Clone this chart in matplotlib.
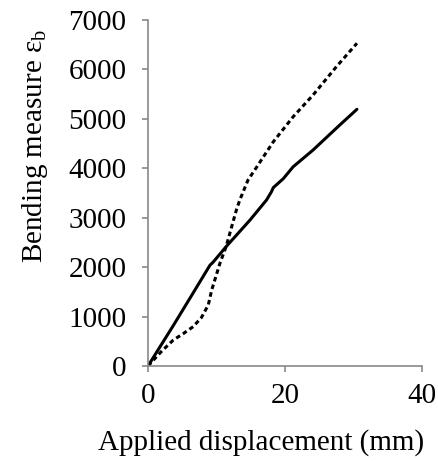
import matplotlib
matplotlib.use("Agg")
import matplotlib.pyplot as plt

# Solid series
solid_x = [0, 3.7, 6.6, 9.05, 9.5, 11.4, 14.9, 17.3, 18.0, 18.3, 19.75, 21.2, 24.1, 28.0, 30.5]
solid_y = [0, 820, 1480, 2040, 2100, 2414, 2954, 3358, 3520, 3610, 3790, 4032, 4370, 4876, 5193]
# Dashed series
dash_x = [0, 2.0, 3.7, 5.2, 6.6, 7.8, 8.8, 9.3, 10.5, 11.4, 12.9, 13.4, 14.6, 15.9, 18.3, 21.2, 24.1, 27.5, 30.5]
dash_y = [0, 300, 526, 660, 796, 980, 1234, 1537, 2078, 2414, 3156, 3358, 3763, 4032, 4538, 5044, 5483, 6055, 6529]

xticks = [0, 20, 40]
yticks = [0, 1000, 2000, 3000, 4000, 5000, 6000, 7000]

plt.rcParams['font.family'] = ['Liberation Serif', 'DejaVu Serif']
plt.rcParams['mathtext.fontset'] = 'custom'
plt.rcParams['mathtext.rm'] = 'Liberation Serif'

FS = 21
W, H = 439, 461
fig = plt.figure(figsize=(W/100, H/100), dpi=100)
ax = fig.add_axes([148/W, 1-366/H, (422-148)/W, (366-20)/H])
ax.plot(solid_x, solid_y, color='black', lw=2.2, solid_capstyle='round')
ax.plot(dash_x, dash_y, color='black', lw=2.2, linestyle=(0, (1.5, 1.1)))
ax.set_xlim(0, 40)
ax.set_ylim(0, 7000)
ax.set_xticks(xticks)
ax.set_yticks(yticks)
for s in ['top', 'right']:
    ax.spines[s].set_visible(False)
for s in ['left', 'bottom']:
    ax.spines[s].set_color('#898989')
    ax.spines[s].set_linewidth(1.2)
ax.tick_params(direction='out', length=4.5, width=1.2, color='#898989', labelsize=FS)
ax.tick_params(axis='y', pad=11)
ax.tick_params(axis='x', pad=8)
fig.text(98/W, 1-450/H, 'Applied displacement (mm)', fontsize=FS, ha='left', va='baseline')
fig.text(42/W, 1-263/H, r'Bending measure ε$_\mathrm{b}$', fontsize=FS, rotation=90,
         rotation_mode='anchor', ha='left', va='baseline')
fig.savefig('out.png', dpi=100)
